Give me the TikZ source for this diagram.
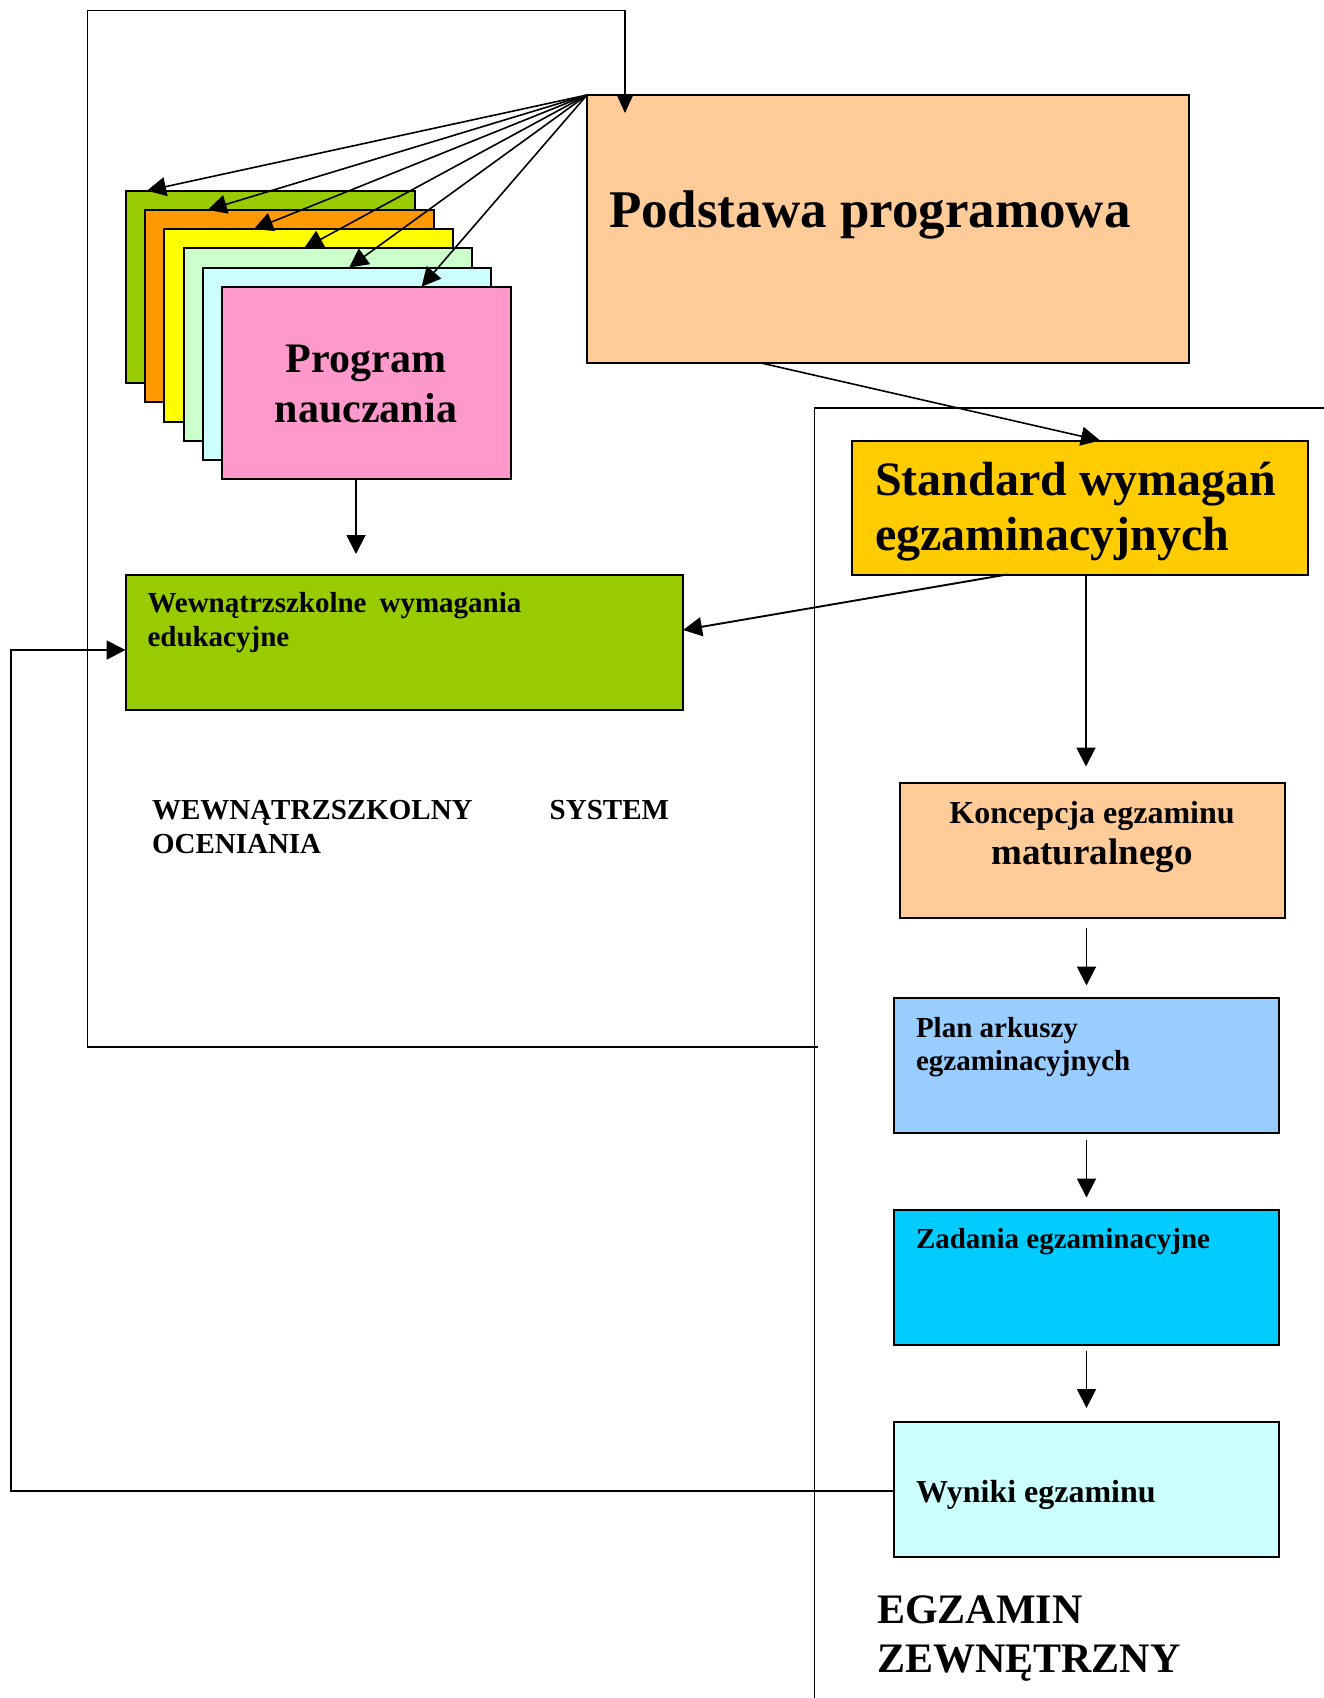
\documentclass[tikz,border=0pt]{standalone}
\usepackage{fontspec}
\setmainfont{Liberation Serif}
\usetikzlibrary{arrows.meta,calc}
\definecolor{cpeach}{HTML}{FFCC99}
\definecolor{cgreen}{HTML}{99CC00}
\definecolor{corange}{HTML}{FF9900}
\definecolor{cyellow}{HTML}{FFFF00}
\definecolor{cltgreen}{HTML}{CCFFCC}
\definecolor{cltcyan}{HTML}{CCFFFF}
\definecolor{cpink}{HTML}{FF99CC}
\definecolor{cgold}{HTML}{FFCC00}
\definecolor{cblue}{HTML}{99CCFF}
\definecolor{ccyan}{HTML}{00CCFF}
\begin{document}
\begin{tikzpicture}[x=1pt,y=-1pt,
  box/.style={draw=black,line width=2pt,inner sep=0pt,outer sep=0pt,anchor=north west},
  lbl/.style={inner sep=0pt,outer sep=0pt,anchor=base west,font=\bfseries},
  clbl/.style={inner sep=0pt,outer sep=0pt,anchor=base,font=\bfseries},
  conn/.style={line width=1.9pt,-{Triangle[length=19pt,width=19pt]}},
  frame/.style={line width=1.4pt}]
\path[use as bounding box] (0,0) rectangle (1324,1698);

% frames
\coordinate (podin) at (625,113);
\coordinate (fbr) at (818,1047);
\draw[frame] (1324,408) -- (814.5,408) -- (814.5,1698);

% stacked program boxes
\node[box,fill=cgreen,minimum width=288.5pt,minimum height=192.5pt] (g1) at (126,190.7) {};
\node[box,fill=corange,minimum width=288.5pt,minimum height=192.5pt] (g2) at (145.2,209.9) {};
\node[box,fill=cyellow,minimum width=288.5pt,minimum height=192.5pt] (g3) at (164.4,229.1) {};
\node[box,fill=cltgreen,minimum width=288.5pt,minimum height=192.5pt] (g4) at (183.6,248.3) {};
\node[box,fill=cltcyan,minimum width=288.5pt,minimum height=192.5pt] (g5) at (202.8,267.5) {};
\node[box,fill=cpink,minimum width=288.5pt,minimum height=192.5pt] (g6) at (222,286.7) {};
\node[clbl,font=\bfseries\fontsize{42}{50}\selectfont] (tprog) at (366,372) {Program};
\node[clbl,font=\bfseries\fontsize{42}{50}\selectfont] (tnauc) at (366,422) {nauczania};

% Podstawa
\node[box,fill=cpeach,minimum width=602pt,minimum height=268pt] (pod) at (587,95) {};
\node[lbl,font=\bfseries\fontsize{53}{60}\selectfont] (tpod) at (609,227) {Podstawa programowa};

\draw[frame,-{Triangle[length=19pt,width=17pt]}] (fbr) -- (87.5,1047) -- (87.5,10.5) -- (625,10.5) -- (podin);

% Standard
\node[box,fill=cgold,minimum width=456pt,minimum height=134pt] (std) at (852,440.5) {};
\node[lbl,font=\bfseries\fontsize{48}{55}\selectfont] (tstd1) at (875,495) {Standard wymagań};
\node[lbl,font=\bfseries\fontsize{48}{55}\selectfont] (tstd2) at (875,550) {egzaminacyjnych};

% Wewnatrzszkolne
\node[box,fill=cgreen,minimum width=557.5pt,minimum height=135pt] (wew) at (125.5,574.5) {};
\node[lbl,font=\bfseries\fontsize{29}{34}\selectfont] (twew1) at (147.5,612.5) {Wewnątrzszkolne\hspace{13pt}wymagania};
\node[lbl,font=\bfseries\fontsize{29}{34}\selectfont] (twew2) at (147.5,646.5) {edukacyjne};

% WSO label
\node[lbl,font=\bfseries\fontsize{29}{34}\selectfont] (twso1) at (152,819) {WEWNĄTRZSZKOLNY};
\node[inner sep=0pt,outer sep=0pt,anchor=base east,font=\bfseries\fontsize{29}{34}\selectfont] (twso2) at (669,819) {SYSTEM};
\node[lbl,font=\bfseries\fontsize{29}{34}\selectfont] (twso3) at (152,853) {OCENIANIA};

% right column
\node[box,fill=cpeach,minimum width=385pt,minimum height=135pt] (kon) at (899.5,783) {};
\node[clbl,font=\bfseries\fontsize{32}{38}\selectfont] (tkon1) at (1092,823) {Koncepcja egzaminu};
\node[clbl,font=\bfseries\fontsize{37}{42}\selectfont] (tkon2) at (1092,864) {maturalnego};

\node[box,fill=cblue,minimum width=385pt,minimum height=135pt] (plan) at (894,997.5) {};
\node[lbl,font=\bfseries\fontsize{29}{34}\selectfont] (tplan1) at (916,1037) {Plan arkuszy};
\node[lbl,font=\bfseries\fontsize{29}{34}\selectfont] (tplan2) at (916,1070) {egzaminacyjnych};

\node[box,fill=ccyan,minimum width=385pt,minimum height=135pt] (zad) at (894,1209.5) {};
\node[lbl,font=\bfseries\fontsize{29}{34}\selectfont] (tzad) at (916,1248) {Zadania egzaminacyjne};

\node[box,fill=cltcyan,minimum width=385pt,minimum height=135pt] (wyn) at (894,1421.5) {};
\node[lbl,font=\bfseries\fontsize{32}{38}\selectfont] (twyn) at (916,1502) {Wyniki egzaminu};

\node[lbl,font=\bfseries\fontsize{42}{49}\selectfont] (tegz1) at (877,1623) {EGZAMIN};
\node[lbl,font=\bfseries\fontsize{42}{49}\selectfont] (tegz2) at (877,1672) {ZEWNĘTRZNY};

% fan arrows
\draw[conn,line width=1.6pt] (pod.north west) -- ([xshift=21pt]g1.north west);
\draw[conn,line width=1.6pt] (pod.north west) -- ([xshift=62.5pt]g2.north west);
\draw[conn,line width=1.6pt] (pod.north west) -- ([xshift=89.5pt]g3.north west);
\draw[conn,line width=1.6pt] (pod.north west) -- ([xshift=120.5pt]g4.north west);
\draw[conn,line width=1.6pt] (pod.north west) -- ([xshift=146.3pt]g5.north west);
\draw[conn,line width=1.6pt] (pod.north west) -- ([xshift=199.6pt]g6.north west);

% other connectors
\coordinate (pw) at (356,554);
\draw[conn] (g6.south -| pw) -- (pw);
\draw[conn,line width=1.6pt] ([xshift=174pt]pod.south west) -- ([xshift=248pt]std.north west);
\draw[conn] ([xshift=155pt]std.south west) -- ([yshift=12pt]wew.east);
\coordinate (sk) at (1086,766.5);
\draw[conn] ([xshift=234pt]std.south west) -- (sk);
\draw[conn] ([yshift=-10pt]kon.south -| plan.north) -- ([yshift=12pt]plan.north);
\draw[conn] ([yshift=-7pt]plan.south) -- ([yshift=12pt]zad.north);
\draw[conn] ([yshift=-6pt]zad.south) -- ([yshift=13.5pt]wyn.north);
\draw[conn] ([yshift=-2pt]wyn.west) -- ++(-883,0) |- ([yshift=-8pt]wew.west);
\end{tikzpicture}
\end{document}
